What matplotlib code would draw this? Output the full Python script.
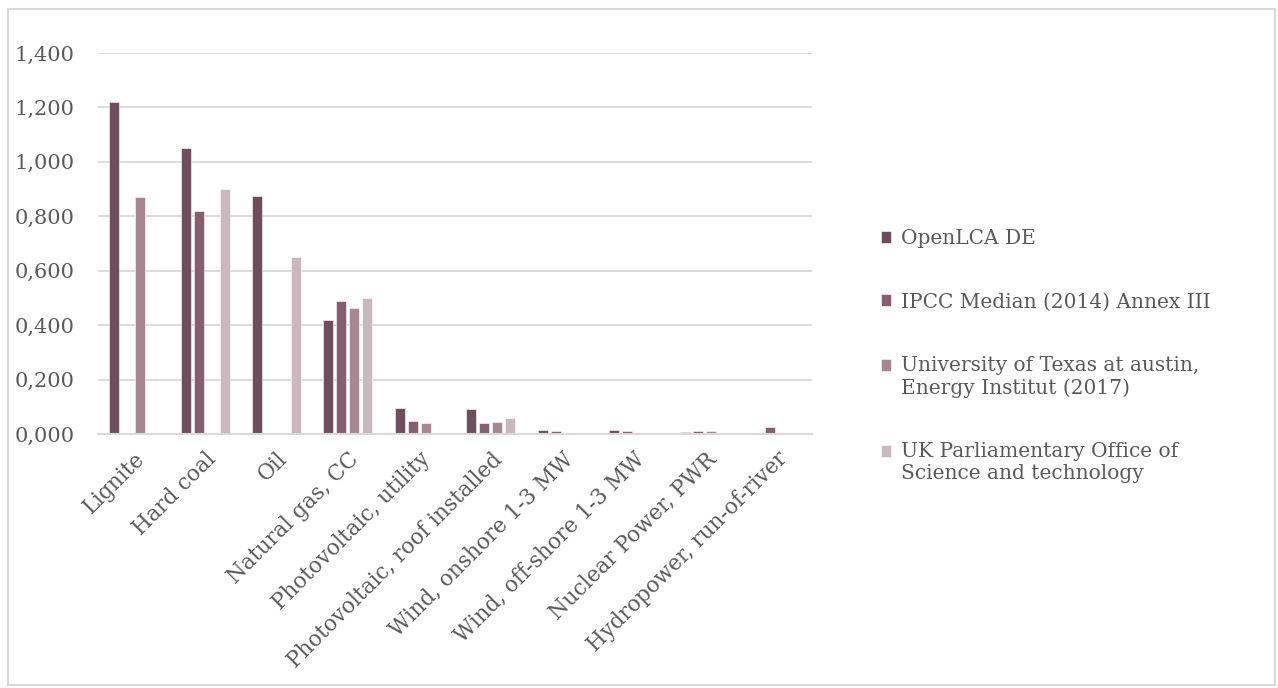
import numpy as np
import matplotlib
matplotlib.use("Agg")
import matplotlib.pyplot as plt
from matplotlib.patches import Rectangle
from matplotlib.ticker import FuncFormatter
from matplotlib.legend_handler import HandlerPatch, update_from_first_child

plt.rcParams['font.family'] = ['DejaVu Serif']

categories = ["Lignite", "Hard coal", "Oil", "Natural gas, CC",
              "Photovoltaic, utility", "Photovoltaic, roof installed",
              "Wind, onshore 1-3 MW", "Wind, off-shore 1-3 MW",
              "Nuclear Power, PWR", "Hydropower, run-of-river"]

series_names = ["OpenLCA DE",
                "IPCC Median (2014) Annex III",
                "University of Texas at austin,\nEnergy Institut (2017)",
                "UK Parliamentary Office of\nScience and technology"]

# kg CO2-eq per kWh
openlca = [1.220, 1.050, 0.873, 0.418, 0.095, 0.092, 0.016, 0.013, 0.008, 0.004]
ipcc    = [np.nan, 0.820, np.nan, 0.490, 0.048, 0.041, 0.011, 0.012, 0.012, 0.024]
texas   = [0.870, np.nan, np.nan, 0.462, 0.040, 0.045, np.nan, np.nan, 0.012, np.nan]
uk      = [np.nan, 0.900, 0.650, 0.500, np.nan, 0.058, 0.004, np.nan, 0.005, np.nan]

series = [openlca, ipcc, texas, uk]
colors = ["#704D5C", "#875E6D", "#A68791", "#C9B9BE"]

text_color = "#595959"
grid_color = "#D9D9D9"
ytick_fs = 15
xtick_fs = 15.5
leg_fs = 14.5

fig = plt.figure(figsize=(12.78, 6.88), dpi=100)
ax = fig.add_axes([98 / 1278, 1 - 434 / 688, (812 - 98) / 1278, (434 - 53) / 688])

x = np.arange(len(categories))
step = 0.182
width = 0.14
offsets = (np.arange(len(series)) - 1.5) * step
handles = []
for vals, off, c, name in zip(series, offsets, colors, series_names):
    b = ax.bar(x + off, vals, width=width, color=c, edgecolor="white",
               linewidth=0.4, label=name, zorder=3)
    handles.append(b)

ax.set_xlim(-0.5, len(categories) - 0.5)
ax.set_ylim(0, 1.4)
ax.set_yticks(np.arange(0, 1.41, 0.2))
ax.yaxis.set_major_formatter(FuncFormatter(lambda v, p: f"{v:,.3f}".replace(".", ",")))
ax.grid(axis="y", color=grid_color, linewidth=1.3, zorder=0)
ax.set_axisbelow(True)
for s in ["top", "right", "left"]:
    ax.spines[s].set_visible(False)
ax.spines["bottom"].set_color(grid_color)
ax.spines["bottom"].set_linewidth(1.5)
ax.spines["bottom"].set_zorder(4)

ax.tick_params(axis="y", length=0, pad=17, labelsize=ytick_fs, labelcolor=text_color)
ax.tick_params(axis="x", length=0, pad=10, labelsize=xtick_fs, labelcolor=text_color)
ax.set_xticks(x)
ax.set_xticklabels(categories, rotation=45, ha="right", va="top",
                   rotation_mode="anchor")


def top_line_marker(legend, orig_handle, xdescent, ydescent, width, height, fontsize):
    # keep the swatch level with the first line of a two-line label
    return Rectangle((-xdescent, -ydescent + 0.6 * fontsize), width, height)


two_line = HandlerPatch(patch_func=top_line_marker, update_func=update_from_first_child)
handler_map = {h: two_line for h, n in zip(handles, series_names) if "\n" in n}

leg = fig.legend(handles=handles, loc="center left",
                 bbox_to_anchor=(881 / 1278, 1 - 356 / 688),
                 frameon=False, fontsize=leg_fs, labelcolor=text_color,
                 handlelength=0.52, handleheight=0.52, handletextpad=0.45,
                 labelspacing=2.2, borderaxespad=0, borderpad=0,
                 handler_map=handler_map)

# outer chart frame
fig.patches.append(Rectangle((8 / 1278, 3 / 688), 1267 / 1278, 676 / 688,
                             transform=fig.transFigure, fill=False,
                             edgecolor=grid_color, linewidth=1.5))

fig.savefig("out.png", dpi=100)
